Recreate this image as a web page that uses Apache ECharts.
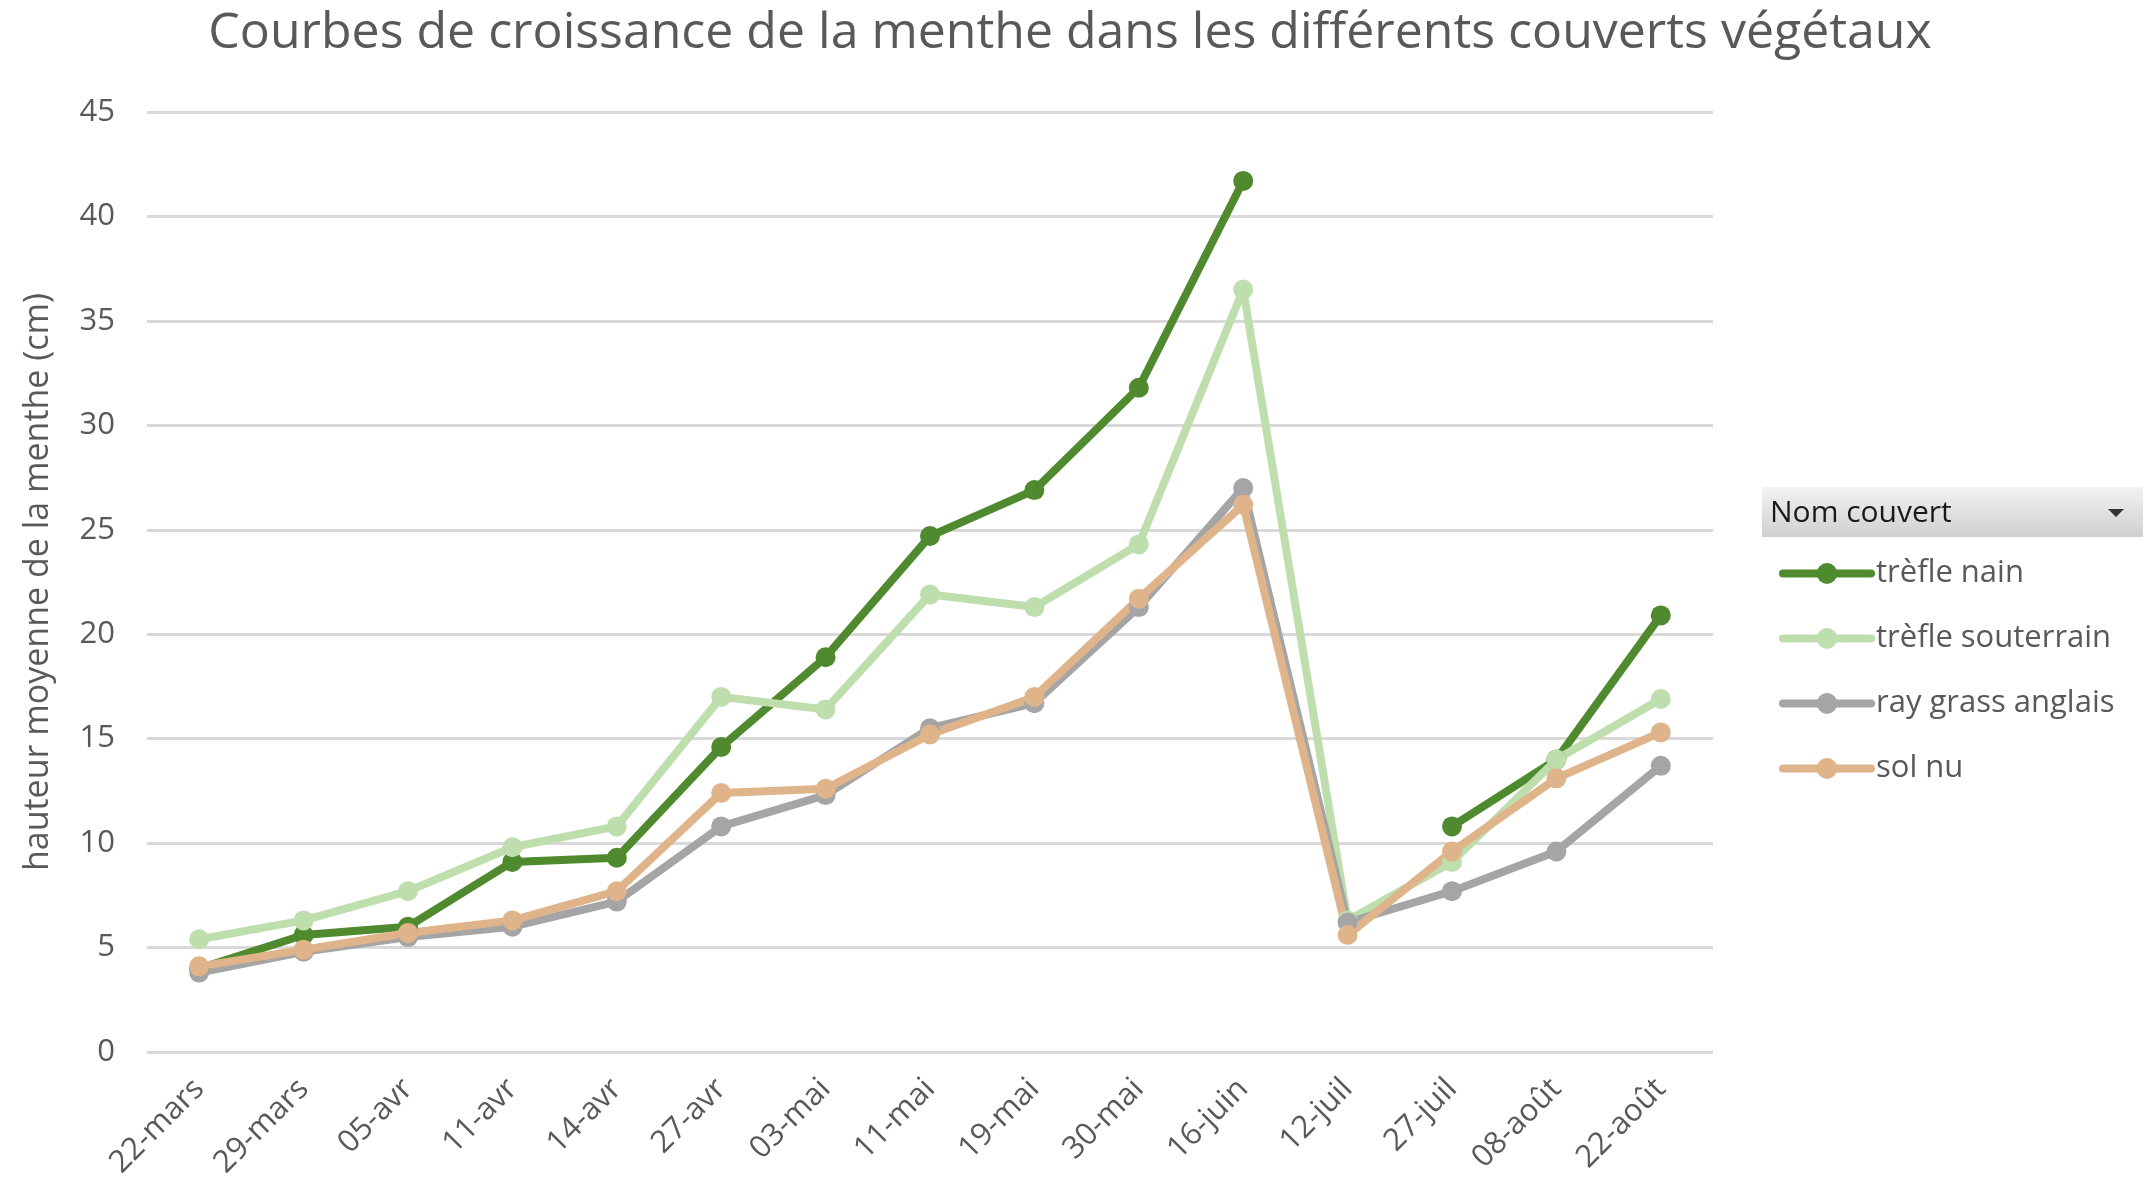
<!DOCTYPE html>
<html>
<head>
<meta charset="utf-8">
<script src="https://cdn.jsdelivr.net/npm/echarts@6/dist/echarts.min.js"></script>
<style>
  html, body { margin: 0; padding: 0; background: #fff; }
  #myEcharts { width: 2147px; height: 1183px; }
</style>
</head>
<body>
<div id="myEcharts"></div>
<script>
// dates des relevés
var dates = ['22-mars', '29-mars', '05-avr', '11-avr', '14-avr', '27-avr', '03-mai', '11-mai',
             '19-mai', '30-mai', '16-juin', '12-juil', '27-juil', '08-août', '22-août'];

// hauteur moyenne (cm) par couvert
var trefleNain = [4.0, 5.6, 6.0, 9.1, 9.3, 14.6, 18.9, 24.7, 26.9, 31.8, 41.7, null, 10.8, 14.0, 20.9];
var trefleSouterrain = [5.4, 6.3, 7.7, 9.8, 10.8, 17.0, 16.4, 21.9, 21.3, 24.3, 36.5, 6.3, 9.1, 14.0, 16.9];
var rayGrass = [3.8, 4.8, 5.5, 6.0, 7.2, 10.8, 12.3, 15.5, 16.7, 21.3, 27.0, 6.2, 7.7, 9.6, 13.7];
var solNu = [4.1, 4.9, 5.7, 6.3, 7.7, 12.4, 12.6, 15.2, 17.0, 21.7, 26.2, 5.6, 9.6, 13.1, 15.3];

var yTicks = [0, 5, 10, 15, 20, 25, 30, 35, 40, 45];

window.onload = function () {
  var myChart = echarts.init(document.getElementById('myEcharts'));

  var font = 'Open Sans';
  function serie(name, data, color) {
    return {
      name: name,
      type: 'line',
      data: data,
      connectNulls: false,
      symbol: 'circle',
      symbolSize: 20,
      lineStyle: { width: 8, color: color, cap: 'round', join: 'round' },
      itemStyle: { color: color },
      emphasis: { disabled: true }
    };
  }

  var option = {
    backgroundColor: '#fff',
    animation: false,
    title: {
      text: 'Courbes de croissance de la menthe dans les différents couverts végétaux',
      left: 1065,
      textAlign: 'center',
      top: 4,
      textStyle: { fontFamily: font, fontSize: 50, fontWeight: 'normal', color: '#595959' }
    },
    grid: { left: 147, right: 434, top: 112, bottom: 131 },
    legend: {
      orient: 'vertical',
      left: 1774,
      top: 553,
      itemWidth: 88,
      itemHeight: 26,
      itemGap: 34,
      lineStyle: { width: 8, cap: 'round' },
      textStyle: { fontFamily: font, fontSize: 31, color: '#595959', padding: [0, 0, 0, 0] },
      data: ['trèfle nain', 'trèfle souterrain', 'ray grass anglais', 'sol nu']
    },
    xAxis: {
      type: 'category',
      data: dates,
      boundaryGap: true,
      axisLine: { show: false },
      axisTick: { show: false },
      axisLabel: {
        rotate: 45,
        interval: 0,
        margin: 32,
        fontFamily: font,
        fontSize: 31,
        color: '#595959'
      }
    },
    yAxis: {
      type: 'value',
      min: yTicks[0],
      max: yTicks[yTicks.length - 1],
      interval: 5,
      name: 'hauteur moyenne de la menthe (cm)',
      nameLocation: 'middle',
      nameGap: 92,
      nameRotate: 90,
      nameTextStyle: { fontFamily: font, fontSize: 34, color: '#595959' },
      axisLabel: { fontFamily: font, fontSize: 31, color: '#595959', margin: 32 },
      splitLine: { lineStyle: { color: '#d9d9d9', width: 3 } },
      axisLine: { show: false },
      axisTick: { show: false }
    },
    graphic: [
      {
        type: 'rect',
        shape: { x: 1762, y: 487, width: 381, height: 50 },
        style: {
          fill: new echarts.graphic.LinearGradient(0, 0, 0, 1, [
            { offset: 0, color: '#f2f2f2' },
            { offset: 1, color: '#d0d0d0' }
          ])
        }
      },
      {
        type: 'text',
        x: 1770,
        y: 513,
        style: {
          text: 'Nom couvert',
          fontFamily: font,
          fontSize: 30,
          fill: '#1a1a1a',
          verticalAlign: 'middle'
        }
      },
      {
        type: 'polygon',
        shape: { points: [[2108, 509], [2124, 509], [2116, 517]] },
        style: { fill: '#333' }
      }
    ],
    series: [
      serie('trèfle nain', trefleNain, '#4f8a2f'),
      serie('trèfle souterrain', trefleSouterrain, '#bfdeae'),
      serie('ray grass anglais', rayGrass, '#a5a5a5'),
      serie('sol nu', solNu, '#e0b48a')
    ]
  };

  myChart.setOption(option);
};
</script>
</body>
</html>
